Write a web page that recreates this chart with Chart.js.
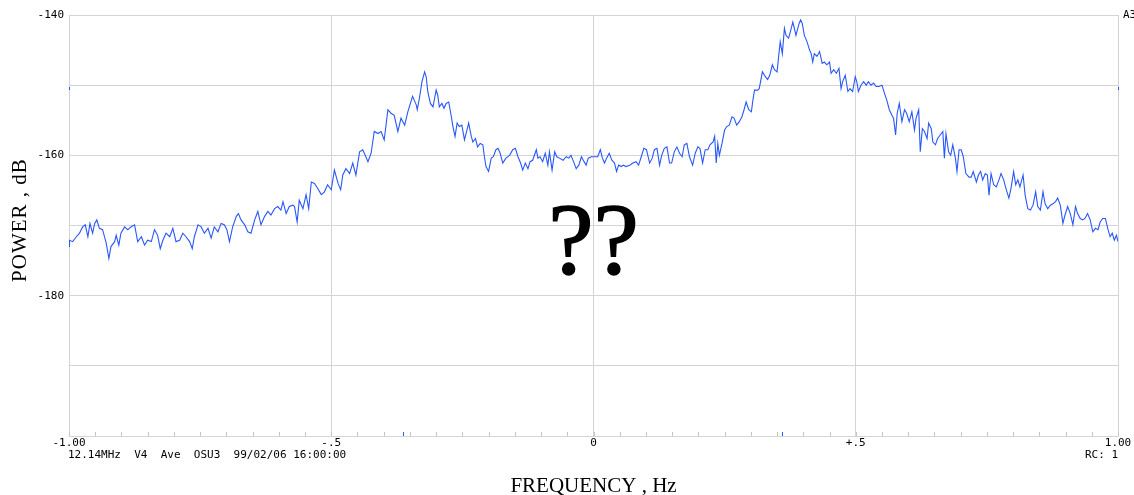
<!DOCTYPE html>
<html>
<head>
<meta charset="utf-8">
<script src="https://cdn.jsdelivr.net/npm/chart.js@4/dist/chart.umd.min.js"></script>
<style>
  html, body { margin: 0; padding: 0; background: #ffffff; }
  #wrap { width: 1134px; height: 495px; }
</style>
</head>
<body>
<div id="wrap"><canvas id="spec" width="1134" height="495"></canvas></div>
<script>
// Averaged Doppler spectrum, power (dB) against frequency offset (Hz)
const freqHz = [
  -1.000,-0.999,-0.993,-0.986,-0.980,-0.974,-0.969,-0.964,-0.960,-0.955,
  -0.951,-0.947,-0.942,-0.936,-0.929,-0.924,-0.920,-0.913,-0.910,-0.905,
  -0.901,-0.894,-0.888,-0.882,-0.875,-0.869,-0.862,-0.856,-0.850,-0.843,
  -0.837,-0.831,-0.826,-0.821,-0.815,-0.808,-0.802,-0.796,-0.789,-0.783,
  -0.777,-0.770,-0.765,-0.761,-0.754,-0.748,-0.742,-0.735,-0.729,-0.723,
  -0.716,-0.710,-0.704,-0.699,-0.694,-0.688,-0.681,-0.677,-0.672,-0.665,
  -0.659,-0.653,-0.646,-0.640,-0.634,-0.627,-0.621,-0.615,-0.608,-0.602,
  -0.596,-0.592,-0.586,-0.580,-0.573,-0.570,-0.565,-0.561,-0.554,-0.548,
  -0.543,-0.538,-0.532,-0.526,-0.519,-0.513,-0.507,-0.500,-0.494,-0.487,
  -0.482,-0.478,-0.472,-0.465,-0.459,-0.453,-0.446,-0.440,-0.434,-0.430,
  -0.424,-0.418,-0.411,-0.405,-0.399,-0.392,-0.386,-0.380,-0.373,-0.367,
  -0.360,-0.354,-0.345,-0.338,
  -0.336,-0.332,-0.327,-0.322,-0.319,-0.316,-0.311,-0.306,-0.303,-0.300,
  -0.297,-0.294,-0.289,-0.285,-0.281,-0.276,-0.271,-0.268,-0.264,-0.260,
  -0.256,-0.251,-0.246,-0.243,-0.238,-0.233,-0.230,-0.225,-0.221,-0.216,
  -0.211,-0.208,-0.205,-0.200,-0.195,-0.191,-0.186,-0.182,-0.178,-0.173,
  -0.167,-0.160,-0.154,-0.149,-0.144,-0.139,-0.135,-0.130,-0.125,-0.121,
  -0.116,-0.109,-0.106,-0.102,-0.097,-0.092,-0.087,-0.084,-0.079,-0.074,
  -0.070,-0.065,-0.058,-0.052,-0.047,-0.043,-0.038,-0.033,-0.028,-0.023,
  -0.018,-0.014,-0.010,-0.004, 0.002, 0.008, 0.013, 0.017, 0.021, 0.025,
   0.030, 0.035, 0.040, 0.044, 0.048, 0.053, 0.057, 0.062, 0.069, 0.075,
   0.081, 0.086, 0.091, 0.096, 0.101, 0.107, 0.112, 0.116, 0.121, 0.126,
   0.130, 0.135, 0.140, 0.145, 0.149, 0.154, 0.159, 0.164, 0.169, 0.173,
   0.178, 0.183, 0.189, 0.194, 0.199, 0.203, 0.208, 0.213, 0.218, 0.222,
   0.228, 0.231, 0.234, 0.237, 0.240, 0.245, 0.250, 0.254, 0.259, 0.264,
   0.268, 0.273, 0.278, 0.283, 0.287, 0.291, 0.296, 0.301, 0.304, 0.307,
   0.313, 0.316, 0.322, 0.326, 0.332,
   0.336, 0.341, 0.345, 0.350, 0.353, 0.356, 0.360, 0.364, 0.367, 0.372,
   0.377, 0.380, 0.383, 0.386, 0.392, 0.395, 0.398, 0.402, 0.407, 0.412,
   0.415, 0.418, 0.421, 0.426, 0.431, 0.436, 0.440, 0.445, 0.450, 0.453,
   0.458, 0.463, 0.468, 0.472, 0.475, 0.480, 0.485, 0.489, 0.494, 0.499,
   0.502, 0.505, 0.510, 0.515, 0.520, 0.524, 0.529, 0.534, 0.539, 0.544,
   0.550, 0.555, 0.559, 0.564, 0.569, 0.572, 0.576, 0.579, 0.583, 0.588,
   0.593, 0.597, 0.602, 0.607, 0.612, 0.615, 0.620, 0.623, 0.627, 0.631,
   0.636, 0.639, 0.644, 0.647, 0.652, 0.656, 0.661, 0.666, 0.669, 0.672,
   0.677, 0.681, 0.685, 0.690, 0.693, 0.697, 0.701, 0.705, 0.710, 0.716,
   0.720, 0.724, 0.730, 0.734, 0.738, 0.742, 0.747, 0.751, 0.754, 0.758,
   0.763, 0.768, 0.773, 0.777, 0.782, 0.787, 0.792, 0.796, 0.801, 0.805,
   0.809, 0.813, 0.819, 0.823, 0.828, 0.833, 0.838, 0.843, 0.847, 0.852,
   0.857, 0.861, 0.866, 0.871, 0.876, 0.881, 0.885, 0.890, 0.895, 0.899,
   0.904, 0.909, 0.914, 0.919, 0.923, 0.928, 0.933, 0.937, 0.942, 0.947,
   0.952, 0.957, 0.962, 0.966, 0.971, 0.976, 0.981, 0.985, 0.989, 0.993,
   0.997, 1.000
];

const powerDb = [
  -173.0,-172.1,-172.3,-171.6,-171.1,-170.2,-169.9,-171.6,-169.7,-171.1,
  -169.7,-169.2,-170.4,-170.6,-172.5,-174.7,-173.0,-172.3,-171.4,-172.8,
  -171.1,-170.2,-170.6,-170.2,-169.9,-172.3,-171.6,-172.8,-172.1,-172.3,
  -170.6,-171.4,-173.3,-172.1,-171.1,-171.6,-170.4,-172.3,-172.1,-171.1,
  -171.6,-172.3,-173.3,-171.6,-169.9,-170.2,-171.1,-170.4,-171.8,-170.2,
  -170.9,-169.7,-169.9,-170.6,-172.3,-170.2,-168.7,-168.3,-169.2,-169.9,
  -170.9,-171.1,-169.2,-168.0,-169.9,-168.7,-168.0,-168.5,-167.6,-167.3,
  -167.8,-166.6,-168.3,-167.3,-167.1,-167.3,-169.5,-166.4,-167.6,-165.6,
  -167.6,-163.8,-164.0,-164.7,-165.6,-165.2,-164.2,-164.9,-162.1,-164.0,
  -164.9,-162.8,-161.9,-162.6,-161.1,-162.8,-159.5,-159.2,-160.2,-160.9,
  -159.7,-156.6,-156.9,-156.6,-157.8,-153.5,-154.0,-154.3,-156.6,-154.7,
  -155.7,-153.8,-151.6,-152.8,
  -153.5,-151.9,-149.5,-148.1,-148.8,-150.9,-152.6,-153.1,-151.9,-150.7,
  -151.4,-153.1,-152.6,-153.3,-152.6,-152.4,-154.5,-155.9,-157.3,-155.4,
  -155.9,-155.7,-157.8,-156.9,-155.4,-157.3,-158.1,-157.6,-158.8,-158.3,
  -158.5,-160.2,-161.6,-162.3,-160.4,-160.2,-159.2,-159.0,-159.7,-161.1,
  -160.4,-160.0,-159.2,-159.0,-160.2,-161.1,-162.1,-161.1,-161.9,-160.9,
  -160.7,-159.2,-160.4,-160.2,-160.9,-159.7,-161.4,-159.5,-162.1,-159.5,
  -160.2,-160.4,-160.7,-160.2,-160.4,-160.0,-160.9,-161.9,-161.4,-160.2,
  -160.9,-161.4,-160.4,-160.2,-160.2,-160.2,-159.2,-160.4,-161.1,-160.4,
  -159.7,-160.7,-161.1,-162.3,-161.4,-161.6,-161.4,-161.6,-161.4,-161.1,
  -160.9,-161.4,-160.2,-159.0,-159.2,-161.1,-160.4,-159.2,-159.0,-161.4,
  -160.0,-159.0,-158.8,-161.1,-161.1,-159.5,-158.8,-159.7,-160.2,-158.5,
  -158.3,-160.2,-161.4,-159.7,-158.8,-159.0,-161.1,-159.2,-159.2,-158.5,
  -158.1,-157.3,-161.1,-158.3,-160.0,-158.3,-156.4,-155.9,-155.7,-154.5,
  -154.7,-155.7,-155.2,-154.5,-153.5,-152.4,-153.5,-153.8,-152.1,-150.7,
  -150.7,-150.5,-148.1,-148.6,-149.2,
  -148.6,-147.1,-147.8,-148.1,-145.9,-143.8,-145.5,-141.9,-142.9,-143.3,
  -141.9,-141.0,-141.9,-142.9,-141.2,-140.7,-141.2,-142.9,-143.8,-145.0,
  -145.5,-146.7,-145.5,-145.9,-145.2,-146.9,-146.7,-147.1,-146.7,-148.3,
  -147.8,-148.3,-147.6,-150.5,-149.5,-148.6,-150.9,-150.5,-150.9,-148.8,
  -149.5,-150.9,-150.0,-149.5,-150.0,-149.5,-150.0,-149.7,-150.2,-150.2,
  -150.0,-151.2,-152.1,-153.5,-154.3,-154.7,-157.1,-154.0,-152.6,-155.2,
  -153.5,-154.0,-155.2,-153.8,-156.4,-154.7,-153.5,-159.5,-156.2,-156.6,
  -157.6,-155.4,-156.2,-158.1,-158.5,-157.6,-157.1,-156.6,-160.4,-156.9,
  -159.5,-160.0,-158.5,-160.4,-162.3,-159.2,-159.2,-160.2,-162.6,-163.1,
  -163.1,-162.3,-163.8,-162.8,-162.3,-163.5,-162.6,-162.8,-165.7,-162.6,
  -164.2,-164.5,-163.5,-162.6,-163.5,-164.9,-166.1,-164.7,-162.3,-164.2,
  -163.5,-164.5,-162.8,-165.7,-167.6,-167.8,-167.1,-165.2,-167.3,-167.8,
  -165.2,-166.9,-167.6,-167.1,-166.9,-166.6,-166.1,-167.1,-169.7,-168.5,
  -167.3,-168.3,-169.9,-167.3,-168.3,-169.0,-169.2,-169.0,-168.3,-169.2,
  -170.9,-170.4,-170.6,-169.5,-169.0,-169.0,-170.6,-171.6,-171.1,-172.1,
  -171.4,-172.3
];

// Axis ticks
const xTickValues = [-1, -0.5, 0, 0.5, 1];
const xTickLabels = ['-1.00', '-.5', '0', '+.5', '1.00'];
const yLabelledTicks = [-140, -160, -180];
const xMinorStep = 0.05;

// Small blue reference marks on the frame
const braggMarkHz = [-0.364, 0.360];
const edgeMarkDb = -150.4;

// Annotation text
const yTitle = 'POWER , dB';
const xTitle = 'FREQUENCY , Hz';
const centerMark = '??';
const runInfo = '12.14MHz  V4  Ave  OSU3  99/02/06 16:00:00';
const runCount = 'RC: 1';
const panelId = 'A3';

const GRID = '#d4d4d4';
const TRACE = '#2a58f8';
const MONO = '"DejaVu Sans Mono", "Liberation Mono", monospace';
const SERIF = '"Liberation Serif", "DejaVu Serif", serif';

const points = freqHz.map((f, i) => ({ x: f, y: powerDb[i] }));

const decorations = {
  id: 'decorations',
  afterDraw(chart) {
    const { ctx, chartArea: a, scales: { x, y } } = chart;
    ctx.save();

    // minor ticks along the frequency axis
    ctx.strokeStyle = '#c4c4c4';
    ctx.lineWidth = 1;
    const n = Math.round((x.max - x.min) / xMinorStep);
    for (let i = 0; i <= n; i++) {
      const px = Math.round(x.getPixelForValue(x.min + i * xMinorStep)) + 0.5;
      ctx.beginPath();
      ctx.moveTo(px, a.bottom);
      ctx.lineTo(px, a.bottom - 4);
      ctx.stroke();
    }

    // blue frame marks
    ctx.strokeStyle = TRACE;
    braggMarkHz.forEach(f => {
      const px = Math.round(x.getPixelForValue(f)) + 0.5;
      ctx.beginPath();
      ctx.moveTo(px, a.bottom);
      ctx.lineTo(px, a.bottom - 4);
      ctx.stroke();
    });
    const py = Math.round(y.getPixelForValue(edgeMarkDb));
    [a.left, a.right].forEach(ex => {
      ctx.beginPath();
      ctx.moveTo(ex + 0.5, py - 1);
      ctx.lineTo(ex + 0.5, py + 2);
      ctx.stroke();
    });

    ctx.fillStyle = '#000';

    // run information under the axis
    ctx.font = '11px ' + MONO;
    ctx.textBaseline = 'middle';
    ctx.textAlign = 'left';
    ctx.fillText(runInfo, a.left - 1, 455);
    ctx.textAlign = 'right';
    ctx.fillText(runCount, a.right, 455);
    ctx.textAlign = 'left';
    ctx.fillText(panelId, a.right + 5, a.top);

    // axis titles
    ctx.font = '21px ' + SERIF;
    ctx.textAlign = 'center';
    ctx.textBaseline = 'alphabetic';
    ctx.fillText(xTitle, (a.left + a.right) / 2, 492);
    ctx.save();
    ctx.translate(26, 220);
    ctx.rotate(-Math.PI / 2);
    ctx.letterSpacing = '1px';
    ctx.fillText(yTitle, 0, 0);
    ctx.restore();

    // large centred mark
    ctx.font = '102px ' + SERIF;
    ctx.textAlign = 'center';
    ctx.lineWidth = 1.5;
    ctx.strokeStyle = '#000';
    ctx.fillText(centerMark, (a.left + a.right) / 2, 274);
    ctx.strokeText(centerMark, (a.left + a.right) / 2, 274);

    ctx.restore();
  }
};

new Chart(document.getElementById('spec'), {
  type: 'scatter',
  data: {
    datasets: [{
      data: points,
      showLine: true,
      borderColor: TRACE,
      borderWidth: 1.1,
      pointRadius: 0,
      tension: 0
    }]
  },
  options: {
    responsive: false,
    animation: false,
    events: [],
    layout: { padding: { top: 15, right: 16, left: 0, bottom: 0 } },
    plugins: { legend: { display: false }, tooltip: { enabled: false } },
    scales: {
      x: {
        type: 'linear',
        min: -1,
        max: 1,
        afterFit(s) { s.height = 59; },
        afterBuildTicks(s) { s.ticks = xTickValues.map(v => ({ value: v })); },
        ticks: {
          padding: 1,
          color: '#000',
          font: { family: MONO, size: 11 },
          maxRotation: 0,
          autoSkip: false,
          callback: (v) => {
            const i = xTickValues.findIndex(t => Math.abs(t - v) < 1e-9);
            return i >= 0 ? xTickLabels[i] : '';
          }
        },
        grid: { color: GRID, lineWidth: 1, drawTicks: false },
        border: { color: GRID }
      },
      y: {
        type: 'linear',
        min: -200,
        max: -140,
        afterFit(s) { s.width = 69; },
        ticks: {
          stepSize: 10,
          padding: 5,
          color: '#000',
          font: { family: MONO, size: 11 },
          callback: (v) => yLabelledTicks.includes(v) ? String(v) : ''
        },
        grid: { color: GRID, lineWidth: 1, drawTicks: false },
        border: { color: GRID }
      }
    }
  },
  plugins: [decorations]
});
</script>
</body>
</html>
